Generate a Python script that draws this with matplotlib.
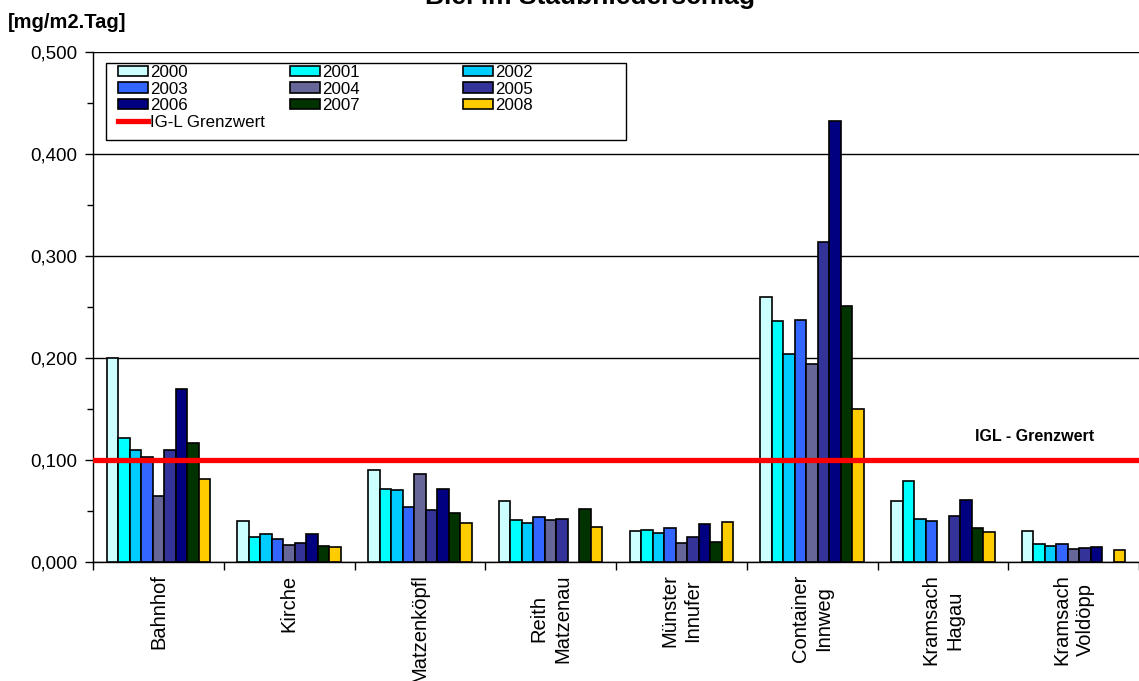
import numpy as np
import matplotlib
matplotlib.use("Agg")
import matplotlib.pyplot as plt
from matplotlib.patches import Patch, Rectangle
from matplotlib.lines import Line2D
from matplotlib.ticker import MultipleLocator, FuncFormatter

plt.rcParams['font.family'] = ['Liberation Sans', 'DejaVu Sans']

stations = ["Bahnhof", "Kirche", "Matzenköpfl", "Reith\nMatzenau", "Münster\nInnufer",
            "Container\nInnweg", "Kramsach\nHagau", "Kramsach\nVoldöpp"]
years = ["2000", "2001", "2002", "2003", "2004", "2005", "2006", "2007", "2008"]
colors = ["#CCFFFF", "#00FFFF", "#00CCFF", "#3366FF", "#666699",
          "#333399", "#000080", "#003300", "#FFCC00"]

# Lead deposition [mg/m2.Tag] per year; None = no measurement
v2000 = [0.200, 0.040, 0.090, 0.060, 0.030, 0.260, 0.060, 0.030]
v2001 = [0.122, 0.025, 0.072, 0.041, 0.031, 0.236, 0.079, 0.018]
v2002 = [0.110, 0.027, 0.071, 0.038, 0.028, 0.204, 0.042, 0.016]
v2003 = [0.103, 0.023, 0.054, 0.044, 0.033, 0.237, 0.040, 0.018]
v2004 = [0.065, 0.017, 0.086, 0.041, 0.019, 0.194, None, 0.013]
v2005 = [0.110, 0.019, 0.051, 0.042, 0.025, 0.314, 0.045, 0.014]
v2006 = [0.170, 0.027, 0.072, None, 0.037, 0.432, 0.061, 0.015]
v2007 = [0.117, 0.016, 0.048, 0.052, 0.020, 0.251, 0.033, None]
v2008 = [0.081, 0.015, 0.038, 0.034, 0.039, 0.150, 0.029, 0.012]
series = [v2000, v2001, v2002, v2003, v2004, v2005, v2006, v2007, v2008]

limit_value = 0.100
limit_label = "IG-L Grenzwert"

W, H = 1139, 681
fig = plt.figure(figsize=(W / 100, H / 100), dpi=100)
ax = fig.add_axes([93 / W, 1 - 562 / H, 1 - 93 / W, (562 - 52) / H])

n = len(years)
group_w = 0.79
bw = group_w / n
x = np.arange(len(stations))
for i, (vals, col) in enumerate(zip(series, colors)):
    pos = [xi - group_w / 2 + (i + 0.5) * bw for xi, v in zip(x, vals) if v is not None]
    hv = [v for v in vals if v is not None]
    ax.bar(pos, hv, width=bw, color=col, edgecolor="black", linewidth=1.2, zorder=3)

ax.set_xlim(-0.5, len(stations) - 0.5)
ax.set_ylim(0, 0.5)

ax.axhline(limit_value, color="#FF0000", linewidth=3.8, zorder=4)
ax.text(0.9, 0.246, "IGL - Grenzwert", transform=ax.transAxes, ha="center", va="center",
        fontsize=11.5, fontweight="bold")

# grid and axes styling
ax.yaxis.set_major_locator(MultipleLocator(0.1))
ax.yaxis.set_minor_locator(MultipleLocator(0.05))
ax.yaxis.set_major_formatter(FuncFormatter(lambda v, p: f"{v:.3f}".replace(".", ",")))
ax.grid(axis="y", which="major", color="black", linewidth=1.0, zorder=0)
for s in ["top", "right"]:
    ax.spines[s].set_visible(False)
ax.spines["left"].set_linewidth(1.0)
ax.spines["bottom"].set_linewidth(1.0)
ax.tick_params(axis="y", which="major", length=6, width=1, labelsize=13.5, pad=5)
ax.tick_params(axis="y", which="minor", length=4, width=1)

ax.set_xticks(np.arange(len(stations) + 1) - 0.5)
ax.set_xticklabels([])
ax.tick_params(axis="x", which="major", length=6, width=1)
ax.set_xticks(x, minor=True)
ax.set_xticklabels(stations, minor=True, rotation=90, fontsize=14.5, va="top", ha="center",
                   linespacing=1.3)
ax.tick_params(axis="x", which="minor", length=0, pad=9)

# legend: three columns of entries inside one frame
handles = [Patch(facecolor=c, edgecolor="black", linewidth=1.2) for c in colors]
limit_handle = Line2D([0], [0], color="#FF0000", linewidth=3.8)
columns = [
    ([handles[0], handles[3], handles[6], limit_handle], [years[0], years[3], years[6], limit_label]),
    ([handles[1], handles[4], handles[7]], [years[1], years[4], years[7]]),
    ([handles[2], handles[5], handles[8]], [years[2], years[5], years[8]]),
]
col_x = [118, 290, 463]
for (hs, ls), cx in zip(columns, col_x):
    lg = fig.legend(hs, ls, loc="upper left",
                    bbox_to_anchor=(cx / W, 1 - 65 / H), bbox_transform=fig.transFigure,
                    borderaxespad=0, borderpad=0, fontsize=12.2, frameon=False,
                    handlelength=1.75, handleheight=0.6, handletextpad=0.12,
                    labelspacing=0.09)
    lg.set_zorder(6)
fig.patches.append(Rectangle((106 / W, 1 - 140 / H), 520 / W, 77 / H,
                             transform=fig.transFigure, facecolor="white",
                             edgecolor="black", linewidth=1.0, zorder=5))

fig.text(8 / W, 1 - 22 / H, "[mg/m2.Tag]", ha="left", va="center", fontsize=14.5,
         fontweight="bold")
fig.text(590 / W, 1 - 4 / H, "Blei im Staubniederschlag", ha="center", va="baseline",
         fontsize=19, fontweight="bold")

fig.savefig("out.png", dpi=100)
